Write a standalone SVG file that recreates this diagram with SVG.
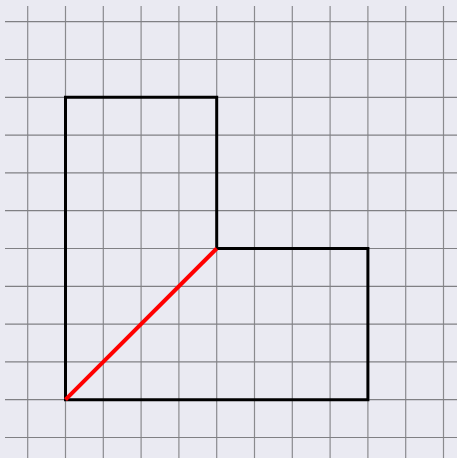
<svg xmlns="http://www.w3.org/2000/svg" width="457" height="458" viewBox="0 0 457 458">
<style>
.v{stroke:#8a8a8e;stroke-width:1.2}
.h{stroke:#808084;stroke-width:1.2}
</style>
<rect width="457" height="458" fill="#eaeaf2"/>
<g id="grid">
<g class="v">
<line x1="27.7" y1="6" x2="27.7" y2="458"/>
<line x1="65.5" y1="6" x2="65.5" y2="458"/>
<line x1="103.3" y1="6" x2="103.3" y2="458"/>
<line x1="141.1" y1="6" x2="141.1" y2="458"/>
<line x1="178.9" y1="6" x2="178.9" y2="458"/>
<line x1="216.7" y1="6" x2="216.7" y2="458"/>
<line x1="254.5" y1="6" x2="254.5" y2="458"/>
<line x1="292.3" y1="6" x2="292.3" y2="458"/>
<line x1="330.1" y1="6" x2="330.1" y2="458"/>
<line x1="367.9" y1="6" x2="367.9" y2="458"/>
<line x1="405.7" y1="6" x2="405.7" y2="458"/>
<line x1="443.5" y1="6" x2="443.5" y2="458"/>
</g>
<g class="h">
<line x1="5" y1="21.7" x2="457" y2="21.7"/>
<line x1="5" y1="59.5" x2="457" y2="59.5"/>
<line x1="5" y1="97.3" x2="457" y2="97.3"/>
<line x1="5" y1="135.1" x2="457" y2="135.1"/>
<line x1="5" y1="172.9" x2="457" y2="172.9"/>
<line x1="5" y1="210.7" x2="457" y2="210.7"/>
<line x1="5" y1="248.5" x2="457" y2="248.5"/>
<line x1="5" y1="286.3" x2="457" y2="286.3"/>
<line x1="5" y1="324.1" x2="457" y2="324.1"/>
<line x1="5" y1="361.9" x2="457" y2="361.9"/>
<line x1="5" y1="399.7" x2="457" y2="399.7"/>
<line x1="5" y1="437.5" x2="457" y2="437.5"/>
</g>
</g>
<g id="shape">
<path d="M65.5,97.3 H216.7 V248.5 H367.9 V399.7 H65.5 Z" fill="none" stroke="#000" stroke-width="3"/>
</g>
<g id="connectors">
<line x1="65.5" y1="399.7" x2="216.7" y2="248.5" stroke="#ff0000" stroke-width="4"/>
</g>
</svg>
